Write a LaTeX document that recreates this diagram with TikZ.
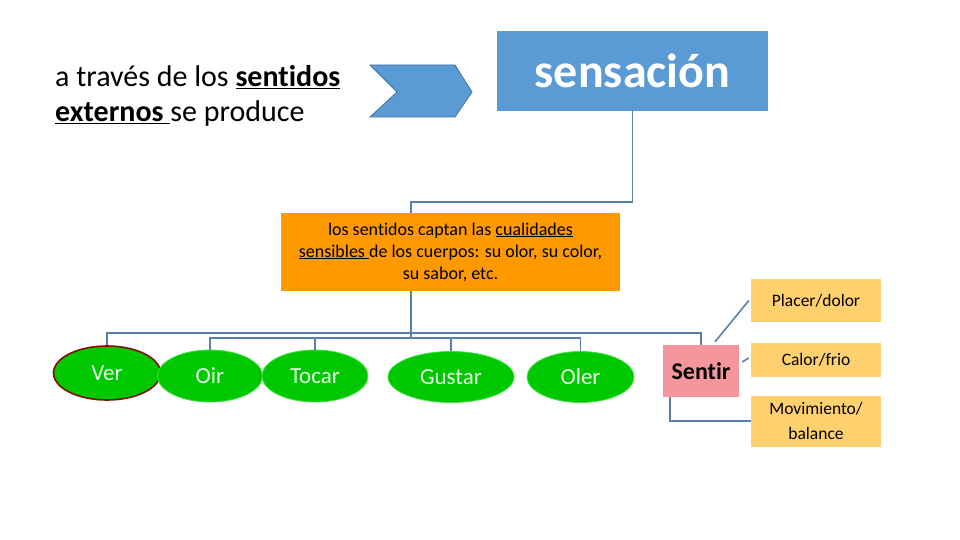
\documentclass[tikz,border=0pt]{standalone}
\usepackage{fontspec}
\setmainfont{Carlito}[Ligatures=NoCommon]
\usetikzlibrary{shapes.geometric}

\definecolor{sensblue}{RGB}{91,155,213}
\definecolor{chevedge}{RGB}{65,113,156}
\definecolor{linkblue}{RGB}{88,128,168}
\definecolor{boxorange}{RGB}{255,153,0}
\definecolor{sensegreen}{RGB}{0,200,0}
\definecolor{senseedge}{RGB}{60,230,60}
\definecolor{veredge}{RGB}{122,20,0}
\definecolor{sentirpink}{RGB}{245,150,156}
\definecolor{feelbox}{RGB}{255,208,110}

\begin{document}
\begin{tikzpicture}[x=1pt, y=-1pt, every node/.style={font=\fontsize{18}{22}\selectfont}]
    \tikzstyle{sense}=[ellipse, fill=sensegreen, draw=senseedge, line width=0.8pt, inner sep=0pt, minimum height=52pt, text=white!90!green, font=\fontsize{23}{26}\selectfont]
    \tikzstyle{feel}=[fill=feelbox, minimum width=130pt, align=center, inner sep=0pt, font=\fontsize{17.5}{25}\selectfont]
    \tikzstyle{link}=[draw=linkblue, line width=1.6pt]

    \useasboundingbox (0,0) rectangle (960,540);

    \node[anchor=west, align=left, inner sep=0pt, font=\fontsize{30}{35}\selectfont] (intro) at (55,96)
        {a través de los \underline{\textbf{sentidos}}\\ \underline{\textbf{externos}\ }se produce};
    \fill[sensblue, draw=chevedge, line width=0.8pt] (370,65) -- (455,65) -- (472,92) -- (455,117) -- (370,117) -- (397,92) -- cycle;

    \node[fill=sensblue, minimum width=271pt, minimum height=80pt, text=white, font=\fontsize{48}{50}\selectfont\bfseries] (sens) at (632.5,71) {sensación};

    \node[fill=boxorange, minimum width=339pt, minimum height=78pt, align=center, inner sep=0pt] (cualid) at (450.5,252)
        {los sentidos captan las \underline{cualidades}\\ \underline{sensibles\ }de los cuerpos: su olor, su color,\\ su sabor, etc.};

    \node[sense, draw=veredge, line width=1.6pt, minimum width=107pt, minimum height=54pt] (ver) at (107,373) {Ver};
    \node[sense, minimum width=105pt] (oir) at (210,376) {Oir};
    \node[sense, minimum width=106pt] (tocar) at (315,376) {Tocar};
    \node[sense, minimum width=126pt, minimum height=51pt] (gustar) at (451,377) {Gustar};
    \node[sense, minimum width=107pt, minimum height=51pt] (oler) at (580.5,377) {Oler};

    \node[fill=sentirpink, minimum width=76pt, minimum height=52pt, font=\fontsize{24}{26}\selectfont\bfseries] (sentir) at (701,371) {Sentir};
    \node[feel, minimum height=43pt] (placer) at (816,300.5) {Placer/dolor};
    \node[feel, minimum height=34pt] (calor) at (816,360) {Calor/frio};
    \node[feel, minimum height=51pt] (mov) at (816,421) {Movimiento/\\ balance};

    \coordinate (jtop) at (411,202);
    \coordinate (busA) at (411,333);
    \coordinate (busB) at (411,338);

    \draw[link] (sens.south) |- (jtop) -- (cualid.north -| jtop);
    \draw[link] (cualid.south -| busB) -- (busB);
    \draw[link] (ver.north) |- (busA) -| (sentir.north);
    \draw[link] (oir.north) |- (busB) -| (oler.north);
    \draw[link] (tocar.north) -- (tocar.north |- busB);
    \draw[link] (gustar.north) -- (gustar.north |- busB);

    \draw[link] ([xshift=14pt,yshift=3pt]sentir.north) -- ([xshift=-2pt]placer.west);
    \draw[link] ([xshift=3pt,yshift=9pt]sentir.east) -- ([xshift=-2pt,yshift=2pt]calor.west);
    \draw[link] ([xshift=-31pt]sentir.south) |- (mov.west);
\end{tikzpicture}
\end{document}
